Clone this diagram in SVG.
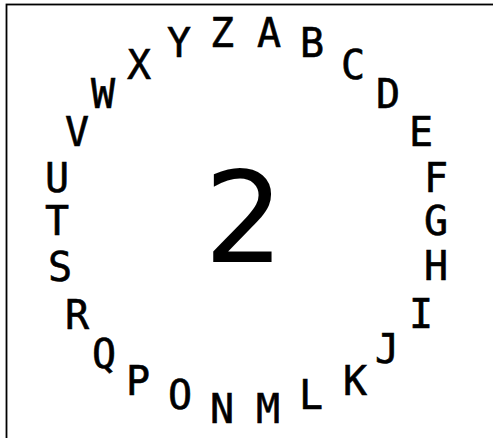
<svg xmlns="http://www.w3.org/2000/svg" width="493" height="438" viewBox="0 0 493 438">
<style>
.l{font-family:"DejaVu Sans Mono","Liberation Mono",monospace;font-size:40px;fill:#000;stroke:#000;stroke-width:0.6;text-anchor:middle}
.big{font-family:"DejaVu Sans","Liberation Sans",sans-serif;font-size:126px;fill:#000;text-anchor:middle}
</style>
<rect x="0" y="0" width="493" height="438" fill="#fff"/>
<rect id="frame" x="6.5" y="4.5" width="500" height="450" fill="none" stroke="#000" stroke-width="1.8"/>
<g id="center"><text class="big" x="244" y="262">2</text></g>
<g id="letters">
<g id="A"><text class="l" x="269" y="47">A</text></g>
<g id="B"><text class="l" x="312" y="57">B</text></g>
<g id="C"><text class="l" x="353" y="79">C</text></g>
<g id="D"><text class="l" x="388" y="108">D</text></g>
<g id="E"><text class="l" x="421" y="146">E</text></g>
<g id="F"><text class="l" x="436" y="192">F</text></g>
<g id="G"><text class="l" x="436" y="235">G</text></g>
<g id="H"><text class="l" x="436" y="280">H</text></g>
<g id="I"><text class="l" x="421" y="328">I</text></g>
<g id="J"><text class="l" x="387" y="363">J</text></g>
<g id="K"><text class="l" x="355" y="395">K</text></g>
<g id="L"><text class="l" x="311" y="409">L</text></g>
<g id="M"><text class="l" x="268" y="423">M</text></g>
<g id="N"><text class="l" x="222" y="423">N</text></g>
<g id="O"><text class="l" x="180" y="409">O</text></g>
<g id="P"><text class="l" x="138" y="395">P</text></g>
<g id="Q"><text class="l" x="104" y="368">Q</text></g>
<g id="R"><text class="l" x="77" y="329">R</text></g>
<g id="S"><text class="l" x="60" y="281">S</text></g>
<g id="T"><text class="l" x="57" y="235">T</text></g>
<g id="U"><text class="l" x="57" y="192">U</text></g>
<g id="V"><text class="l" x="77" y="146">V</text></g>
<g id="W"><text class="l" x="103" y="108">W</text></g>
<g id="X"><text class="l" x="139" y="79">X</text></g>
<g id="Y"><text class="l" x="179" y="57">Y</text></g>
<g id="Z"><text class="l" x="222" y="47">Z</text></g>
</g>
</svg>
